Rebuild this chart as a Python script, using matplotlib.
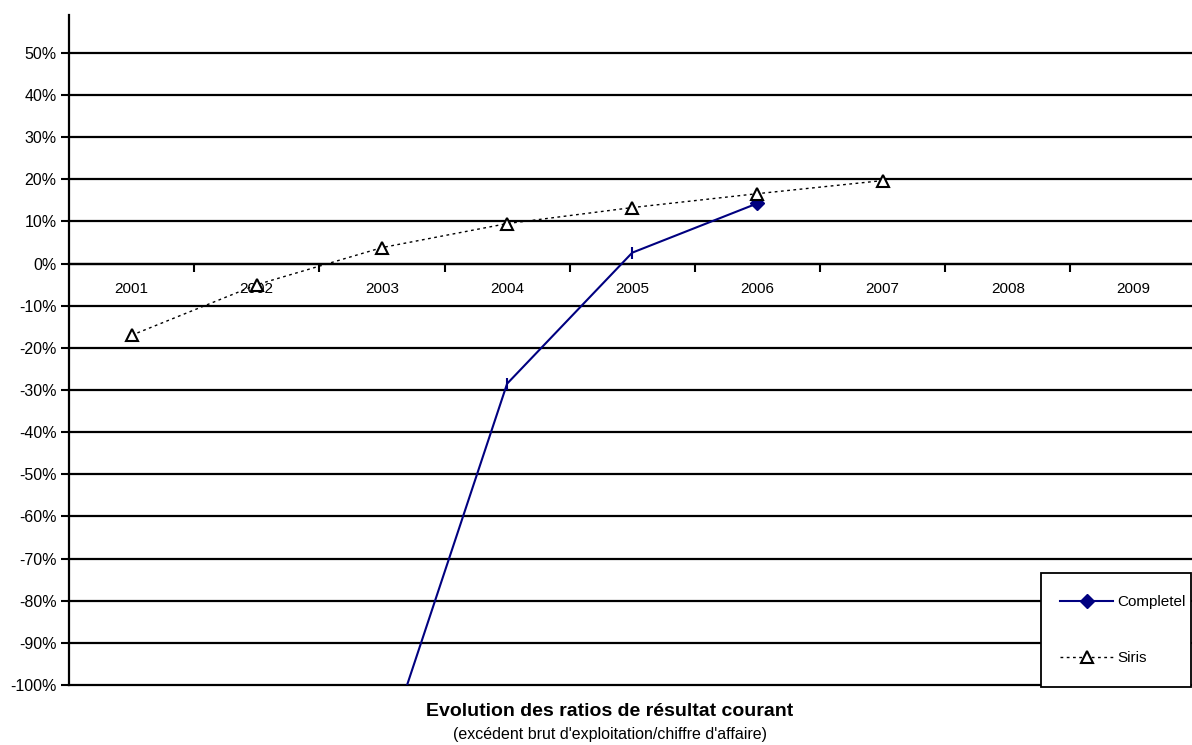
import numpy as np
import matplotlib.pyplot as plt
from matplotlib.lines import Line2D
from matplotlib.patches import Rectangle

plt.rcParams['font.family'] = ['Liberation Sans', 'DejaVu Sans']

years = ['2001', '2002', '2003', '2004', '2005', '2006', '2007', '2008', '2009']
completel = [np.nan, np.nan, -1.18, -0.285, 0.026, 0.143, np.nan, np.nan, np.nan]
siris = [-0.17, -0.05, 0.038, 0.095, 0.133, 0.166, 0.197, np.nan, np.nan]
yticks = np.arange(-1.0, 0.51, 0.1)

fig = plt.figure(figsize=(11.92, 7.45), dpi=100)
ax = fig.add_axes([69 / 1192, 60 / 745, (1195.5 - 69) / 1192, 670 / 745])

x = np.arange(len(years))

# gridlines
for v in yticks:
    ax.axhline(v, color='black', lw=1.6, zorder=1, clip_on=False)

# Completel (navy, markers look like thin ticks except last)
ax.plot(x, completel, color='#000080', lw=1.5, zorder=3)
ax.plot(x[3:5], completel[3:5], ls='none', marker='|', ms=9, mew=1.5,
        color='#000080', zorder=4)
ax.plot(x[5], completel[5], ls='none', marker='D', ms=7, color='#000080', zorder=4)

# Siris
ax.plot(x, siris, color='black', lw=1, ls=(0, (2, 2.5)), marker='^', ms=9,
        mfc='white', mec='black', mew=1.5, zorder=5)

ax.set_xlim(-0.5, 8.5)
ax.set_ylim(-1.0, 0.59)

ax.set_yticks(yticks)
ax.set_yticklabels(['%d%%' % round(v * 100) for v in yticks], fontsize=11.5)
ax.tick_params(axis='y', length=6, width=1.5, pad=3)

ax.spines['top'].set_visible(False)
ax.spines['right'].set_visible(False)
ax.spines['left'].set_linewidth(1.6)
ax.spines['bottom'].set_position(('data', 0))
ax.spines['bottom'].set_linewidth(1.6)

ax.set_xticks(x)
ax.set_xticklabels(years, fontsize=11)
ax.set_xticks(np.arange(0.5, 8.5, 1), minor=True)
ax.tick_params(axis='x', which='major', length=0, pad=13)
ax.tick_params(axis='x', which='minor', length=6, width=1.5, direction='out')

# legend box
box = Rectangle((1041 / 1192, 58 / 745), 150 / 1192, 114 / 745,
                transform=fig.transFigure, facecolor='white', edgecolor='black',
                lw=1.3, clip_on=False, zorder=6)
ax.add_patch(box)

handles = [
    Line2D([], [], color='#000080', lw=1.5, marker='D', ms=7),
    Line2D([], [], color='black', lw=1, ls=(0, (2, 2.5)), marker='^', ms=8,
           mfc='white', mec='black', mew=1.5),
]
leg = ax.legend(handles, ['Completel', 'Siris'], loc='upper left',
                bbox_to_anchor=(1060 / 1192, 1 - 595 / 745),
                bbox_transform=fig.transFigure, fontsize=11,
                frameon=False, handlelength=3.5, handletextpad=0.25,
                labelspacing=2.75, borderpad=0, borderaxespad=0)
leg.set_zorder(7)

fig.text(610 / 1192, 1 - 711 / 745, 'Evolution des ratios de résultat courant',
         ha='center', va='center', fontsize=14, fontweight='bold')
fig.text(610 / 1192, 1 - 734 / 745, "(excédent brut d'exploitation/chiffre d'affaire)",
         ha='center', va='center', fontsize=11.5)

fig.savefig('out.png', dpi=100)
